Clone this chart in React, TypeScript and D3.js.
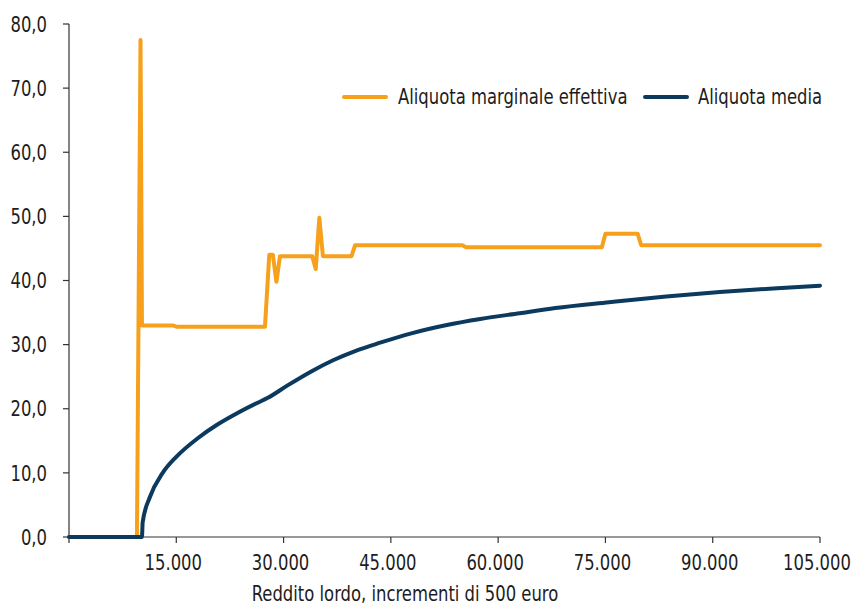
import React from "react";
import * as d3 from "d3";

const marginalIncome = [0, 9500, 10000, 10200, 14500, 15000, 27400, 28000, 28500, 29000, 29500, 34000, 34500, 35000, 35500, 39500, 40000, 55000, 55500, 74500, 75000, 79500, 80000, 105000];
const marginalRate = [0, 0, 77.5, 33.0, 33.0, 32.8, 32.8, 44.0, 44.0, 39.8, 43.8, 43.8, 41.8, 49.8, 43.8, 43.8, 45.5, 45.5, 45.2, 45.2, 47.3, 47.3, 45.5, 45.5];

const averageIncome = [0, 10000, 10200, 10300, 11300, 13100, 15000, 18000, 20700, 23500, 26300, 27800, 30500, 34000, 37000, 40000, 43500, 48000, 53000, 57500, 63000, 68000, 75500, 83500, 91000, 99000, 105000];
const averageRate = [0, 0, 0, 2.3, 6.2, 10.0, 12.5, 15.4, 17.5, 19.3, 20.9, 21.7, 23.6, 25.9, 27.6, 29.0, 30.3, 31.8, 33.1, 34.0, 34.9, 35.7, 36.6, 37.5, 38.2, 38.8, 39.2];

const xTicks = [0, 15000, 30000, 45000, 60000, 75000, 90000, 105000];
const xTickLabels = ["", "15.000", "30.000", "45.000", "60.000", "75.000", "90.000", "105.000"];
const yTicks = [0, 10, 20, 30, 40, 50, 60, 70, 80];
const yTickLabels = ["0,0", "10,0", "20,0", "30,0", "40,0", "50,0", "60,0", "70,0", "80,0"];
const seriesNames = ["Aliquota marginale effettiva", "Aliquota media"];
const xTitle = "Reddito lordo, incrementi di 500 euro";

const ORANGE = "#F6A01C";
const BLUE = "#0B3A5E";
const TEXT = "#1E1C1C";
const FONT = "'DejaVu Sans Condensed', 'DejaVu Sans', sans-serif";
const FS = 22;
const SX = 0.83;

function T(props: { x: number; y: number; anchor?: string; dy?: string; children: React.ReactNode }) {
  return (
    <text
      transform={`translate(${props.x},${props.y}) scale(${SX},1)`}
      dy={props.dy}
      textAnchor={props.anchor || "start"}
      fontSize={FS}
      fill={TEXT}
    >
      {props.children}
    </text>
  );
}

export default function App() {
  const W = 868, H = 610;
  const x = d3.scaleLinear().domain([0, 105000]).range([69, 820]);
  const y = d3.scaleLinear().domain([0, 80]).range([537, 24]);

  const orangeData = marginalIncome.map((v, i) => [v, marginalRate[i]] as [number, number]);
  const blueData = averageIncome.map((v, i) => [v, averageRate[i]] as [number, number]);

  const linear = d3.line<[number, number]>().x(d => x(d[0])).y(d => y(d[1]));
  const smooth = d3.line<[number, number]>().x(d => x(d[0])).y(d => y(d[1])).curve(d3.curveMonotoneX);

  return (
    <svg width={W} height={H} style={{ position: "absolute", left: 0, top: 0, background: "#fff" }} fontFamily={FONT}>
      <line x1={x(0)} x2={x(0)} y1={y(80)} y2={y(0)} stroke="#333" strokeWidth={1.2} />
      <line x1={x(0)} x2={x(105000)} y1={y(0)} y2={y(0)} stroke="#333" strokeWidth={1.2} />
      {yTicks.map((t, i) => (
        <g key={"y" + t}>
          <line x1={x(0) - 6} x2={x(0)} y1={y(t)} y2={y(t)} stroke="#333" strokeWidth={1.2} />
          <T x={47} y={y(t)} dy="0.35em" anchor="end">{yTickLabels[i]}</T>
        </g>
      ))}
      {xTicks.map((t, i) => (
        <g key={"x" + t}>
          <line x1={x(t)} x2={x(t)} y1={y(0)} y2={y(0) + 6} stroke="#333" strokeWidth={1.2} />
          <T x={x(t) - 3} y={570} anchor="middle">{xTickLabels[i]}</T>
        </g>
      ))}
      <T x={405} y={601} anchor="middle">{xTitle}</T>

      <path d={linear(orangeData) || ""} fill="none" stroke={ORANGE} strokeWidth={4} strokeLinejoin="round" strokeLinecap="round" />
      <path d={smooth(blueData) || ""} fill="none" stroke={BLUE} strokeWidth={4} strokeLinejoin="round" strokeLinecap="round" />

      <line x1={344} x2={386} y1={97} y2={97} stroke={ORANGE} strokeWidth={4} strokeLinecap="round" />
      <T x={398} y={104}>{seriesNames[0]}</T>
      <line x1={645} x2={687} y1={97} y2={97} stroke={BLUE} strokeWidth={4} strokeLinecap="round" />
      <T x={698} y={104}>{seriesNames[1]}</T>
    </svg>
  );
}
